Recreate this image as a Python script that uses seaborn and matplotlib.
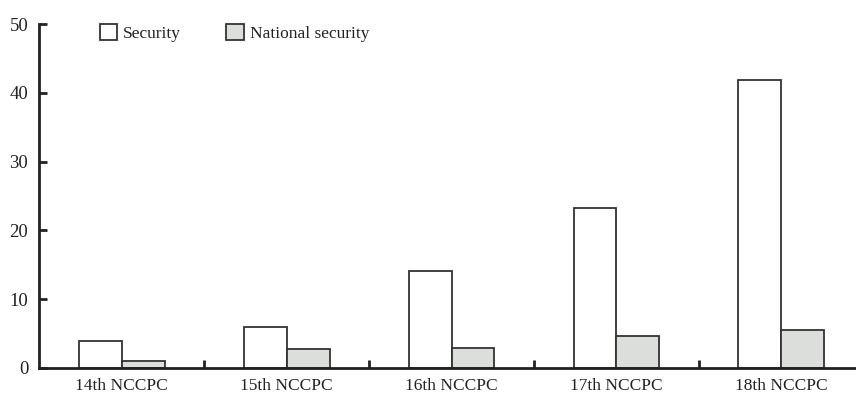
import pandas as pd
import matplotlib.pyplot as plt
import seaborn as sns

congresses = ["14th NCCPC", "15th NCCPC", "16th NCCPC", "17th NCCPC", "18th NCCPC"]
security = [3.9, 6.0, 14.1, 23.3, 41.9]
national_security = [1.0, 2.8, 2.9, 4.7, 5.5]
series_names = ["Security", "National security"]

df = pd.DataFrame({
    "congress": congresses * 2,
    "count": security + national_security,
    "term": [series_names[0]] * len(congresses) + [series_names[1]] * len(congresses),
})

sns.set_theme(style="white")
plt.rcParams["font.family"] = ["Liberation Serif", "DejaVu Serif"]

fig = plt.figure(figsize=(8.56, 3.94), dpi=100)
ax = fig.add_axes([0.046, 0.066, 0.954, 0.873])

sns.barplot(data=df, x="congress", y="count", hue="term", order=congresses,
            hue_order=series_names, palette=["white", "#dcdedc"], width=0.52,
            edgecolor="#333333", linewidth=1.3, saturation=1, ax=ax)

ax.set_ylim(0, 50)
ax.set_xlim(-0.5, 4.453)
ax.set_yticks(range(0, 51, 10))
ax.set_xlabel("")
ax.set_ylabel("")
ax.set_xticks([0.5, 1.5, 2.5, 3.5], minor=True)
ax.tick_params(axis="x", which="major", bottom=False, length=0, labelsize=12.5,
               colors="#222222", pad=7)
ax.tick_params(axis="x", which="minor", bottom=True, direction="in", length=6, width=2,
               color="#222222")
ax.tick_params(axis="y", left=True, direction="in", length=6, width=2, color="#222222",
               labelsize=13.5, labelcolor="#222222", pad=8)

sns.despine(ax=ax)
for side in ["left", "bottom"]:
    ax.spines[side].set_linewidth(2)
    ax.spines[side].set_color("#222222")

ax.legend(loc="upper left", bbox_to_anchor=(0.055, 1.045), ncol=2, frameon=False,
          fontsize=12.5, handlelength=1.0, handleheight=1.0, handletextpad=0.35,
          columnspacing=2.6, labelcolor="#222222")

fig.savefig("out.png", dpi=100)
